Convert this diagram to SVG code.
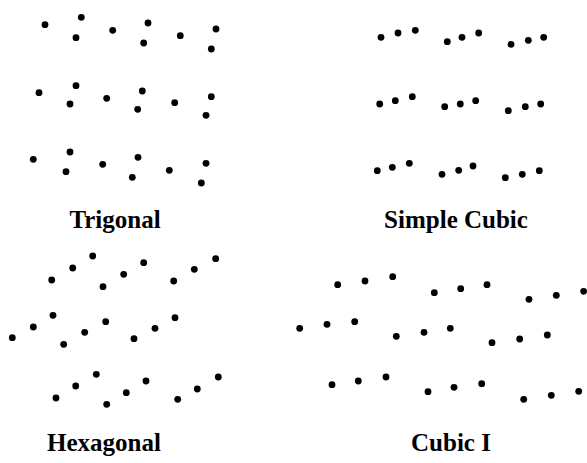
<svg xmlns="http://www.w3.org/2000/svg" width="587" height="463" viewBox="0 0 587 463">
  <style>
    .pt { fill: #000; }
    .lbl { font-family: "Liberation Serif", "Times New Roman", serif; font-weight: bold; font-size: 25px; fill: #000; text-anchor: middle; }
  </style>
  <defs>
    <circle id="d" r="3.4" class="pt"/>
  </defs>
  <rect width="587" height="463" fill="#fff"/>

  <!-- Trigonal lattice points -->
  <g id="trigonal">
    <use href="#d" x="45" y="24.7"/><use href="#d" x="81.3" y="17.3"/><use href="#d" x="76" y="37.7"/>
    <use href="#d" x="112.7" y="30.3"/><use href="#d" x="148" y="23"/><use href="#d" x="143.7" y="43"/>
    <use href="#d" x="180.3" y="35.7"/><use href="#d" x="216" y="29"/><use href="#d" x="211.3" y="49"/>
    <use href="#d" x="39" y="92.7"/><use href="#d" x="76" y="85.7"/><use href="#d" x="70" y="104"/>
    <use href="#d" x="106.7" y="98.3"/><use href="#d" x="142.3" y="91"/><use href="#d" x="137.7" y="109.3"/>
    <use href="#d" x="174.7" y="102.7"/><use href="#d" x="211.3" y="96.7"/><use href="#d" x="206" y="115.3"/>
    <use href="#d" x="33.3" y="159.3"/><use href="#d" x="70" y="152"/><use href="#d" x="66" y="171.7"/>
    <use href="#d" x="102.7" y="164.3"/><use href="#d" x="138" y="157.3"/><use href="#d" x="132.3" y="177.3"/>
    <use href="#d" x="169.3" y="170.3"/><use href="#d" x="206" y="163.3"/><use href="#d" x="201.3" y="183"/>
    <text class="lbl" x="115" y="228">Trigonal</text>
  </g>

  <!-- Simple cubic lattice points -->
  <g id="simple-cubic">
    <use href="#d" x="381" y="37.3"/><use href="#d" x="398" y="33"/><use href="#d" x="415.3" y="30.3"/>
    <use href="#d" x="447.3" y="41.7"/><use href="#d" x="462" y="37.3"/><use href="#d" x="478.7" y="33"/>
    <use href="#d" x="511" y="44.3"/><use href="#d" x="528.3" y="40.3"/><use href="#d" x="543.7" y="37.3"/>
    <use href="#d" x="379.7" y="104"/><use href="#d" x="395.3" y="100.7"/><use href="#d" x="412.3" y="96.7"/>
    <use href="#d" x="444.7" y="106.7"/><use href="#d" x="460.3" y="104"/><use href="#d" x="475.7" y="100.7"/>
    <use href="#d" x="508.3" y="110.7"/><use href="#d" x="525.3" y="106.7"/><use href="#d" x="540.7" y="104"/>
    <use href="#d" x="377.3" y="170.7"/><use href="#d" x="392.3" y="167.3"/><use href="#d" x="409.3" y="163.3"/>
    <use href="#d" x="442" y="174.3"/><use href="#d" x="458.7" y="170.3"/><use href="#d" x="473" y="166"/>
    <use href="#d" x="505.3" y="177.7"/><use href="#d" x="522.3" y="174.3"/><use href="#d" x="539.3" y="170.7"/>
    <text class="lbl" x="456" y="228">Simple Cubic</text>
  </g>

  <!-- Hexagonal lattice points -->
  <g id="hexagonal">
    <use href="#d" x="51.7" y="280"/><use href="#d" x="72.7" y="268"/><use href="#d" x="92.7" y="256"/>
    <use href="#d" x="103" y="286.7"/><use href="#d" x="123.7" y="274.3"/><use href="#d" x="143.7" y="262.7"/>
    <use href="#d" x="173.7" y="281"/><use href="#d" x="194.3" y="269.3"/><use href="#d" x="215.7" y="258.7"/>
    <use href="#d" x="12.3" y="337.7"/><use href="#d" x="33.3" y="327"/><use href="#d" x="53" y="315.3"/>
    <use href="#d" x="63.7" y="344.3"/><use href="#d" x="84.7" y="332.3"/><use href="#d" x="105.7" y="321.7"/>
    <use href="#d" x="134" y="338.7"/><use href="#d" x="155" y="328.3"/><use href="#d" x="175" y="317.7"/>
    <use href="#d" x="56" y="398"/><use href="#d" x="75.7" y="386"/><use href="#d" x="96.3" y="374.3"/>
    <use href="#d" x="106.7" y="404.3"/><use href="#d" x="126.3" y="392.7"/><use href="#d" x="146" y="381"/>
    <use href="#d" x="177.7" y="399.3"/><use href="#d" x="197.3" y="389"/><use href="#d" x="218.3" y="377"/>
    <text class="lbl" x="104" y="451">Hexagonal</text>
  </g>

  <!-- Body-centred cubic lattice points -->
  <g id="cubic-i">
    <use href="#d" x="337.7" y="284.7"/><use href="#d" x="365" y="281"/><use href="#d" x="392.7" y="276.7"/>
    <use href="#d" x="434.3" y="292.7"/><use href="#d" x="460.7" y="288.7"/><use href="#d" x="487" y="284.7"/>
    <use href="#d" x="529" y="299.3"/><use href="#d" x="556.3" y="295.3"/><use href="#d" x="583.7" y="291.3"/>
    <use href="#d" x="299.7" y="328.3"/><use href="#d" x="327" y="324.3"/><use href="#d" x="354.7" y="321.7"/>
    <use href="#d" x="396.3" y="336.3"/><use href="#d" x="424" y="332.3"/><use href="#d" x="450.3" y="328.3"/>
    <use href="#d" x="492" y="342.7"/><use href="#d" x="519.7" y="339"/><use href="#d" x="547.3" y="335"/>
    <use href="#d" x="332" y="384.7"/><use href="#d" x="358.3" y="381"/><use href="#d" x="386" y="377"/>
    <use href="#d" x="428" y="391.7"/><use href="#d" x="454" y="387.3"/><use href="#d" x="481.7" y="383.7"/>
    <use href="#d" x="523.7" y="399.3"/><use href="#d" x="551.3" y="395.3"/><use href="#d" x="578.7" y="391.3"/>
    <text class="lbl" x="451" y="451">Cubic I</text>
  </g>
</svg>
